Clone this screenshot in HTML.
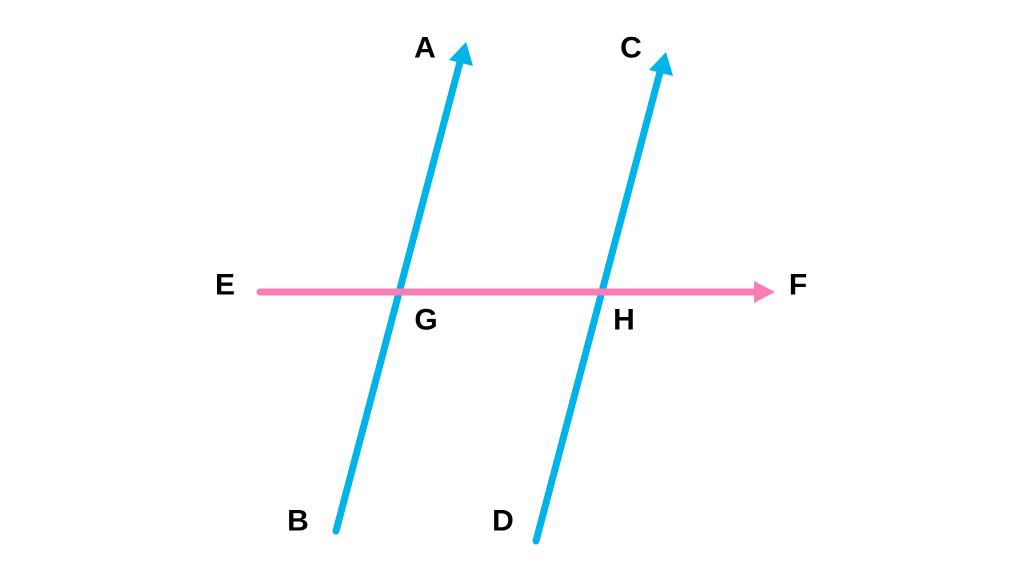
<!DOCTYPE html>
<html><head><style>body{margin:0;background:#fff}svg{display:block}text{font-family:"Liberation Sans",sans-serif;font-weight:bold;font-size:30px;fill:#000;text-anchor:middle;dominant-baseline:central}</style></head>
<body><svg width="1024" height="576" viewBox="0 0 1024 576">
<g stroke="#00B3E9" stroke-width="7" stroke-linecap="round">
<line x1="336" y1="531" x2="460" y2="62"/>
<line x1="536" y1="541" x2="660" y2="72"/>
</g>
<polygon points="466,42 473,66 449,60" fill="#00B3E9"/>
<polygon points="666,52 673,76 649,70" fill="#00B3E9"/>
<line x1="260" y1="292" x2="760" y2="292" stroke="#F77EB5" stroke-width="7" stroke-linecap="round"/>
<polygon points="775,292 754,281 754,303" fill="#F77EB5"/>
<text x="425" y="48">A</text>
<text x="631" y="48">C</text>
<text x="225" y="285">E</text>
<text x="798" y="285">F</text>
<text x="426" y="320">G</text>
<text x="624" y="320">H</text>
<text x="298" y="521">B</text>
<text x="503" y="521">D</text>
</svg></body></html>
